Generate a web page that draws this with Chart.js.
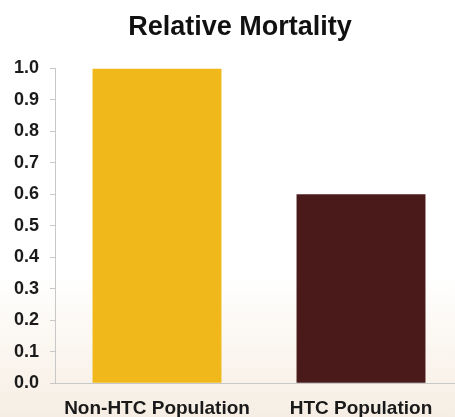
<!DOCTYPE html>
<html>
<head>
<meta charset="utf-8">
<script src="https://cdn.jsdelivr.net/npm/chart.js@4"></script>
<style>
  html, body { margin: 0; padding: 0; width: 455px; height: 417px; overflow: hidden; }
  body { background: linear-gradient(to bottom, #ffffff 0%, #ffffff 66%, #fbf7f1 82%, #f6eee4 100%); }
  #wrap { position: absolute; left: 0; top: 0; width: 463px; height: 419px; }
  canvas { display: block; }
</style>
</head>
<body>
<div id="wrap"><canvas id="c" width="463" height="419"></canvas></div>
<script>
const categories = ['Non-HTC Population', 'HTC Population'];
const mortality = [1.0, 0.6];
const barColors = ['#f1b81c', '#4a1a1a'];
const yTicks = [0, 0.1, 0.2, 0.3, 0.4, 0.5, 0.6, 0.7, 0.8, 0.9, 1.0];

const FONT = 'Liberation Sans, Arial, sans-serif';

// Nudge the title block so the heading sits a little right of the canvas centre.
const titleShift = {
  id: 'titleShift',
  afterLayout(chart) {
    const t = chart.titleBlock;
    if (t) { t.left += 14; }
  }
};

new Chart(document.getElementById('c'), {
  type: 'bar',
  data: {
    labels: categories,
    datasets: [{
      data: mortality,
      backgroundColor: barColors,
      borderWidth: 0,
      categoryPercentage: 0.632,
      barPercentage: 1.0
    }]
  },
  options: {
    responsive: false,
    animation: false,
    devicePixelRatio: 1,
    layout: { padding: { top: 0, right: 0, left: 3, bottom: -15 } },
    plugins: {
      legend: { display: false },
      tooltip: { enabled: false },
      title: {
        display: true,
        text: 'Relative Mortality',
        color: '#111',
        font: { family: FONT, size: 27, weight: 'bold' },
        padding: { top: 11, bottom: 25 },
        align: 'center'
      }
    },
    scales: {
      y: {
        min: 0,
        max: 1.0,
        afterBuildTicks: (axis) => { axis.ticks = yTicks.map(v => ({ value: v })); },
        afterFit: (axis) => { axis.width = 52; },
        ticks: {
          color: '#1a1a1a',
          font: { family: FONT, size: 18, weight: 'bold' },
          padding: 11,
          callback: (v) => Number(v).toFixed(1)
        },
        grid: { drawOnChartArea: false, drawTicks: true, tickLength: 5, color: '#c8c8c8' },
        border: { display: true, color: '#c8c8c8', width: 1 }
      },
      x: {
        ticks: {
          color: '#1a1a1a',
          font: { family: FONT, size: 19, weight: 'bold' },
          padding: 14,
          maxRotation: 0
        },
        grid: { display: false, drawTicks: false },
        border: { display: true, color: '#c8c8c8', width: 1 }
      }
    }
  },
  plugins: [titleShift]
});
</script>
</body>
</html>
